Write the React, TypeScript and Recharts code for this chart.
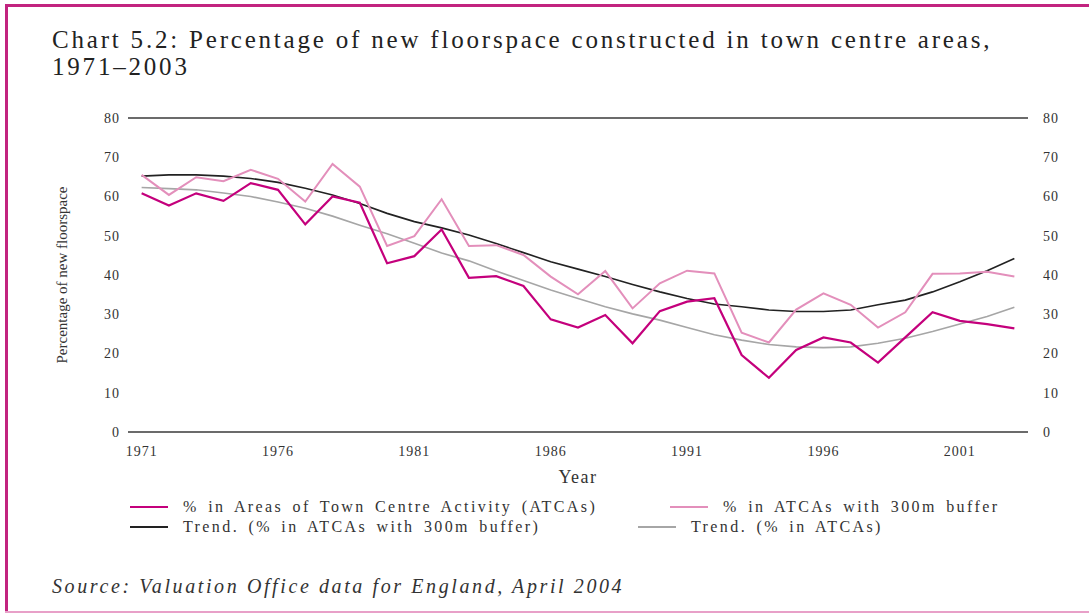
import { LineChart, Line, XAxis, YAxis, CartesianGrid } from "recharts";

const years = [
  1971, 1972, 1973, 1974, 1975, 1976, 1977, 1978, 1979, 1980, 1981, 1982, 1983,
  1984, 1985, 1986, 1987, 1988, 1989, 1990, 1991, 1992, 1993, 1994, 1995, 1996,
  1997, 1998, 1999, 2000, 2001, 2002, 2003,
];

// % in Areas of Town Centre Activity (ATCAs)
const atcas = [
  60.8, 57.7, 60.8, 58.9, 63.4, 61.7, 52.9, 60.0, 58.4, 43.0, 44.8, 51.6, 39.3,
  39.7, 37.2, 28.7, 26.6, 29.8, 22.6, 30.8, 33.2, 34.1, 19.6, 13.8, 20.9, 24.1,
  22.8, 17.7, 24.1, 30.5, 28.3, 27.5, 26.4,
];

// % in ATCAs with 300m buffer
const buffer300 = [
  65.5, 60.4, 64.9, 63.9, 66.8, 64.5, 58.7, 68.3, 62.5, 47.4, 49.9, 59.3, 47.4,
  47.6, 45.1, 39.6, 35.1, 41.0, 31.5, 37.9, 41.1, 40.4, 25.3, 22.8, 31.2, 35.3,
  32.4, 26.6, 30.5, 40.3, 40.4, 40.8, 39.6,
];

// Trend. (% in ATCAs with 300m buffer)
const trendBuffer = [
  65.2, 65.5, 65.5, 65.2, 64.6, 63.6, 62.1, 60.4, 58.2, 55.7, 53.6, 52.0, 50.2,
  48.0, 45.7, 43.4, 41.5, 39.6, 37.6, 35.7, 34.0, 32.6, 31.9, 31.1, 30.7, 30.7,
  31.1, 32.4, 33.6, 35.7, 38.3, 41.1, 44.2,
];

// Trend. (% in ATCAs)
const trendAtcas = [
  62.3, 62.0, 61.7, 60.9, 60.0, 58.6, 57.0, 55.0, 52.7, 50.5, 48.1, 45.6, 43.6,
  41.0, 38.6, 36.2, 34.0, 31.9, 30.1, 28.5, 26.6, 24.8, 23.4, 22.3, 21.7, 21.5,
  21.7, 22.6, 23.9, 25.6, 27.5, 29.4, 31.8,
];

const yearLabels = [1971, 1976, 1981, 1986, 1991, 1996, 2001];
const yTicks = [0, 10, 20, 30, 40, 50, 60, 70, 80];
const boundaryTicks = [...years.map((y) => y - 0.5), 2003.5];

const data = years.map((year, i) => ({
  year,
  atcas: atcas[i],
  buffer300: buffer300[i],
  trendBuffer: trendBuffer[i],
  trendAtcas: trendAtcas[i],
}));

const serif = "'Liberation Serif', 'Times New Roman', serif";

const legendItems = [
  { name: "% in Areas of Town Centre Activity (ATCAs)", color: "#c4007c", left: 130, top: 498 },
  { name: "% in ATCAs with 300m buffer", color: "#e38fbb", left: 670, top: 498 },
  { name: "Trend. (% in ATCAs with 300m buffer)", color: "#222222", left: 130, top: 518 },
  { name: "Trend. (% in ATCAs)", color: "#a6a6a6", left: 638, top: 518 },
];

const tickStyle = { fontFamily: serif, fontSize: 14, fill: "#333", letterSpacing: 1 };

export default function App() {
  return (
    <div
      style={{
        position: "absolute",
        left: 0,
        top: 0,
        width: 1089,
        height: 615,
        background: "#fff",
        overflow: "hidden",
      }}
    >
      <div style={{ position: "absolute", left: 5, top: 4, width: 1084, height: 3, background: "#c2237f" }} />
      <div style={{ position: "absolute", left: 5, top: 4, width: 3, height: 608, background: "#c2237f" }} />
      <div style={{ position: "absolute", left: 5, top: 611, width: 1084, height: 2, background: "#e8a0c8" }} />

      <div
        style={{
          position: "absolute",
          left: 52,
          top: 26,
          fontFamily: serif,
          fontSize: 25,
          lineHeight: "27px",
          color: "#222",
          letterSpacing: 2.8,
          whiteSpace: "nowrap",
        }}
      >
        Chart 5.2: Percentage of new floorspace constructed in town centre areas,
        <br />
        1971–2003
      </div>

      <div style={{ position: "absolute", left: 0, top: 0 }}>
        <LineChart
          width={1089}
          height={490}
          data={data}
          margin={{ top: 118, right: 11, left: 40, bottom: 0 }}
        >
          <CartesianGrid horizontal vertical={false} stroke="#3a3a3a" strokeWidth={1.3} />
          <XAxis
            xAxisId="bounds"
            type="number"
            dataKey="year"
            domain={[1970.5, 2003.5]}
            ticks={boundaryTicks}
            tick={false}
            tickSize={9}
            height={0}
            axisLine={{ stroke: "#333", strokeWidth: 1.3 }}
            tickLine={{ stroke: "#333", strokeWidth: 1.3 }}
          />
          <XAxis
            xAxisId="years"
            type="number"
            dataKey="year"
            domain={[1970.5, 2003.5]}
            ticks={yearLabels}
            interval={0}
            tickLine={false}
            axisLine={false}
            tickMargin={8}
            height={58}
            tick={tickStyle}
            label={{
              value: "Year",
              position: "insideBottom",
              offset: 7,
              style: { fontFamily: serif, fontSize: 18, fill: "#333", letterSpacing: 1.5 },
            }}
          />
          <YAxis
            yAxisId="left"
            domain={[0, 80]}
            ticks={yTicks}
            width={88}
            axisLine={false}
            tickLine={false}
            tick={tickStyle}
            label={{
              value: "Percentage of new floorspace",
              angle: -90,
              position: "center",
              dx: -22,
              style: { fontFamily: serif, fontSize: 15, fill: "#333", textAnchor: "middle" },
            }}
          />
          <YAxis
            yAxisId="right"
            orientation="right"
            domain={[0, 80]}
            ticks={yTicks}
            width={50}
            axisLine={false}
            tickLine={false}
            tickMargin={9}
            tick={tickStyle}
          />
          <Line
            xAxisId="years"
            yAxisId="right"
            dataKey="trendAtcas"
            stroke="#a6a6a6"
            strokeWidth={1.6}
            dot={false}
            isAnimationActive={false}
          />
          <Line
            xAxisId="years"
            yAxisId="left"
            dataKey="trendBuffer"
            stroke="#222222"
            strokeWidth={1.6}
            dot={false}
            isAnimationActive={false}
          />
          <Line
            xAxisId="years"
            yAxisId="left"
            dataKey="buffer300"
            type="linear"
            stroke="#e38fbb"
            strokeWidth={2}
            dot={false}
            isAnimationActive={false}
          />
          <Line
            xAxisId="years"
            yAxisId="left"
            dataKey="atcas"
            type="linear"
            stroke="#c4007c"
            strokeWidth={2.2}
            dot={false}
            isAnimationActive={false}
          />
        </LineChart>
      </div>

      {legendItems.map((it) => (
        <div
          key={it.name}
          style={{
            position: "absolute",
            left: it.left,
            top: it.top,
            display: "flex",
            alignItems: "center",
            fontFamily: serif,
            fontSize: 16,
            lineHeight: "18px",
            color: "#333",
            letterSpacing: 2.4,
            wordSpacing: 3,
            whiteSpace: "nowrap",
          }}
        >
          <span
            style={{
              display: "inline-block",
              width: 38,
              height: 2,
              background: it.color,
              marginRight: 15,
            }}
          />
          {it.name}
        </div>
      ))}

      <div
        style={{
          position: "absolute",
          left: 52,
          top: 575,
          fontFamily: serif,
          fontStyle: "italic",
          fontSize: 20,
          color: "#333",
          letterSpacing: 2.6,
          whiteSpace: "nowrap",
        }}
      >
        Source: Valuation Office data for England, April 2004
      </div>
    </div>
  );
}
